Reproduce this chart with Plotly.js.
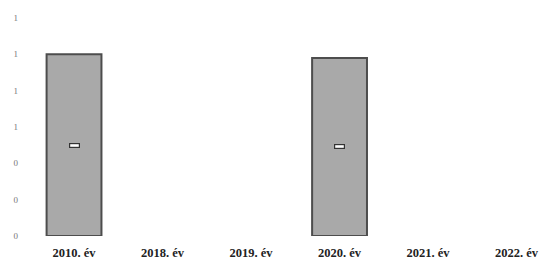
<!DOCTYPE html>
<html><head><meta charset="utf-8">
<script src="https://cdn.plot.ly/plotly-3.0.1.min.js"></script>
<style>html,body{margin:0;padding:0;background:#fff}#c{width:544px;height:270px}</style>
</head><body><div id="c"></div>
<script>
const categories = ["2010. év","2018. év","2019. év","2020. év","2021. év","2022. év"];
const values = [1.0, null, null, 0.98, null, null];
const yTicks = [0, 0.2, 0.4, 0.6, 0.8, 1, 1.2];

const annotations = [];
categories.forEach((c, i) => {
  if (values[i] != null) {
    annotations.push({x: i, y: values[i] / 2, xref: 'x', yref: 'y', text: '', showarrow: false,
      width: 9, height: 3, bgcolor: '#ffffff', bordercolor: '#333', borderwidth: 1.2, borderpad: 0});
  }
});

Plotly.newPlot('c', [{
  type: 'bar',
  x: categories.map((c, i) => i),
  y: values,
  width: 0.62,
  marker: {color: '#a9a9a9', line: {color: '#4d4d4d', width: 2}},
  hoverinfo: 'none'
}], {
  width: 544, height: 270,
  margin: {l: 28, r: 0, t: 18, b: 34},
  paper_bgcolor: '#fff', plot_bgcolor: '#fff',
  showlegend: false,
  xaxis: {range: [-0.52, 5.31], tickvals: categories.map((c, i) => i), ticktext: categories,
    showgrid: false, zeroline: false, showline: false, ticks: '', ticklabelstandoff: 7,
    tickfont: {family: 'Liberation Serif', size: 12.5, color: '#222', weight: 'bold'}},
  yaxis: {range: [0, 1.2], tickvals: yTicks, tickformat: '.0f', showgrid: false, zeroline: false,
    showline: false, ticks: '', ticklabelstandoff: 9,
    tickfont: {family: 'Liberation Serif', size: 9, color: '#777'}},
  annotations: annotations
}, {staticPlot: true});
</script></body></html>
